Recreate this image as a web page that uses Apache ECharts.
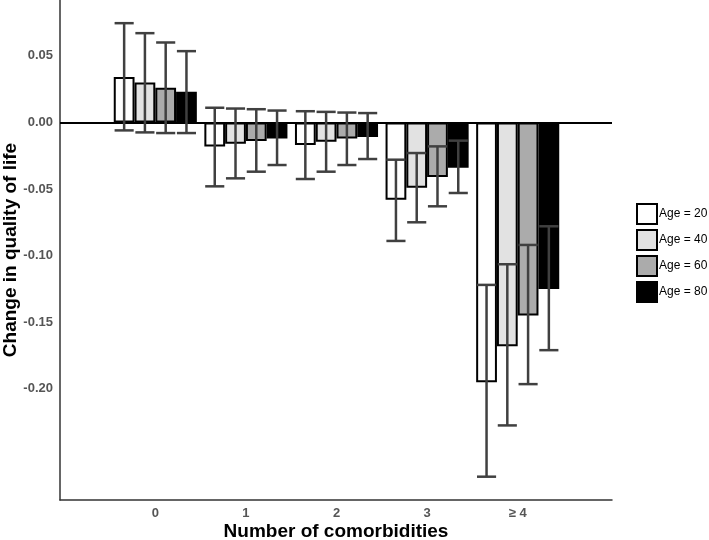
<!DOCTYPE html>
<html>
<head>
<meta charset="utf-8">
<script src="https://cdn.jsdelivr.net/npm/echarts@6/dist/echarts.min.js"></script>
<style>html,body{margin:0;padding:0;background:#fff}#c{width:709px;height:540px}</style>
</head>
<body>
<div id="c"></div>
<script>
const categories = ['0', '1', '2', '3', '≥ 4'];
const seriesNames = ['Age = 20', 'Age = 40', 'Age = 60', 'Age = 80'];
const age20 = [0.034, -0.018, -0.017, -0.058, -0.195];
const age40 = [0.030, -0.016, -0.0145, -0.049, -0.168];
const age60 = [0.026, -0.014, -0.012, -0.041, -0.145];
const age80 = [0.023, -0.012, -0.011, -0.034, -0.125];
const age20Low = [-0.006, -0.048, -0.0425, -0.089, -0.266];
const age20High = [0.0745, 0.011, 0.0084, -0.028, -0.122];
const age40Low = [-0.0075, -0.042, -0.037, -0.075, -0.2275];
const age40High = [0.067, 0.0104, 0.0079, -0.023, -0.1065];
const age60Low = [-0.008, -0.037, -0.032, -0.063, -0.1965];
const age60High = [0.060, 0.0099, 0.0074, -0.018, -0.092];
const age80Low = [-0.008, -0.032, -0.0275, -0.053, -0.171];
const age80High = [0.0535, 0.0089, 0.007, -0.0137, -0.078];
const yTicks = [-0.20, -0.15, -0.10, -0.05, 0.00, 0.05];

const values = [age20, age40, age60, age80];
const lows = [age20Low, age40Low, age60Low, age80Low];
const highs = [age20High, age40High, age60High, age80High];
const fills = ['#ffffff', '#e2e2e2', '#ababab', '#000000'];
const YMIN = -0.2835, YMAX = 0.0919;
const CAT_GAP = 0.083;
const FONT = '"Liberation Sans", Arial, sans-serif';

const chart = echarts.init(document.getElementById('c'));
const series = [];
values.forEach((v, k) => {
  series.push({
    name: seriesNames[k], type: 'bar', xAxisIndex: 0, yAxisIndex: 0,
    data: v, barGap: '0%', barCategoryGap: (CAT_GAP * 100) + '%',
    itemStyle: { color: fills[k], borderColor: '#000', borderWidth: 2 },
    emphasis: { disabled: true }, z: 2
  });
});
values.forEach((v, k) => {
  series.push({
    type: 'custom', xAxisIndex: 0, yAxisIndex: 0, z: 5, silent: true,
    data: v.map((_, i) => [i, lows[k][i], highs[k][i]]),
    renderItem: function (params, api) {
      const c = api.value(0);
      const lo = api.coord([c, api.value(1)]);
      const hi = api.coord([c, api.value(2)]);
      const band = api.size([1, 0])[0];
      const gw = band * (1 - CAT_GAP);
      const bw = gw / 4;
      const x = lo[0] - gw / 2 + (k + 0.5) * bw;
      const hw = bw * 0.46;
      const st = { stroke: '#404040', lineWidth: 2.5, fill: null };
      return { type: 'group', children: [
        { type: 'line', shape: { x1: x, y1: lo[1], x2: x, y2: hi[1] }, style: st },
        { type: 'line', shape: { x1: x - hw, y1: lo[1], x2: x + hw, y2: lo[1] }, style: st },
        { type: 'line', shape: { x1: x - hw, y1: hi[1], x2: x + hw, y2: hi[1] }, style: st }
      ]};
    }
  });
});
series.push({
  type: 'line', xAxisIndex: 1, yAxisIndex: 1, data: [], silent: true,
  markLine: { silent: true, symbol: 'none', label: { show: false },
    lineStyle: { color: '#000', width: 2, type: 'solid' },
    data: [{ yAxis: 0 }] }
});

chart.setOption({
  animation: false,
  grid: [
    { left: 110, right: 146, top: 0, bottom: 40, outerBoundsMode: 'none', containLabel: false },
    { left: 60, right: 97, top: 0, bottom: 40, outerBoundsMode: 'none', containLabel: false }
  ],
  legend: {
    data: seriesNames, orient: 'vertical', left: 636, top: 203,
    itemWidth: 20, itemHeight: 20, itemGap: 4, padding: 0,
    icon: 'rect',
    textStyle: { fontSize: 12, color: '#000', fontFamily: FONT, padding: [0, 0, 0, -3] }
  },
  xAxis: [
    { type: 'category', gridIndex: 0, data: categories,
      axisLine: { show: false }, axisTick: { show: false }, splitLine: { show: false },
      axisLabel: { margin: 7, fontSize: 13, fontWeight: 'bold', color: '#555', fontFamily: FONT } },
    { type: 'value', gridIndex: 1, min: 0, max: 1,
      axisLine: { show: true, onZero: false, lineStyle: { color: '#333', width: 1.5 } },
      axisTick: { show: false }, axisLabel: { show: false }, splitLine: { show: false },
      name: 'Number of comorbidities', nameLocation: 'middle', nameGap: 22, nameMoveOverlap: false,
      nameTextStyle: { fontSize: 19, fontWeight: 'bold', color: '#000', fontFamily: FONT } }
  ],
  yAxis: [
    { type: 'value', gridIndex: 0, min: YMIN, max: YMAX,
      axisLine: { show: false }, axisTick: { show: false }, axisLabel: { show: false }, splitLine: { show: false } },
    { type: 'value', gridIndex: 1, min: YMIN, max: YMAX,
      axisLine: { show: true, onZero: false, lineStyle: { color: '#333', width: 1.5 } },
      axisTick: { show: false }, splitLine: { show: false },
      axisLabel: { customValues: yTicks, margin: 7, fontSize: 13, fontWeight: 'bold', color: '#555', fontFamily: FONT,
        formatter: v => (Math.abs(v) < 1e-9 ? 0 : v).toFixed(2) },
      name: 'Change in quality of life', nameLocation: 'middle', nameGap: 40, nameRotate: 90, nameMoveOverlap: false,
      nameTextStyle: { fontSize: 19, fontWeight: 'bold', color: '#000', fontFamily: FONT } }
  ],
  series: series
});
</script>
</body>
</html>
